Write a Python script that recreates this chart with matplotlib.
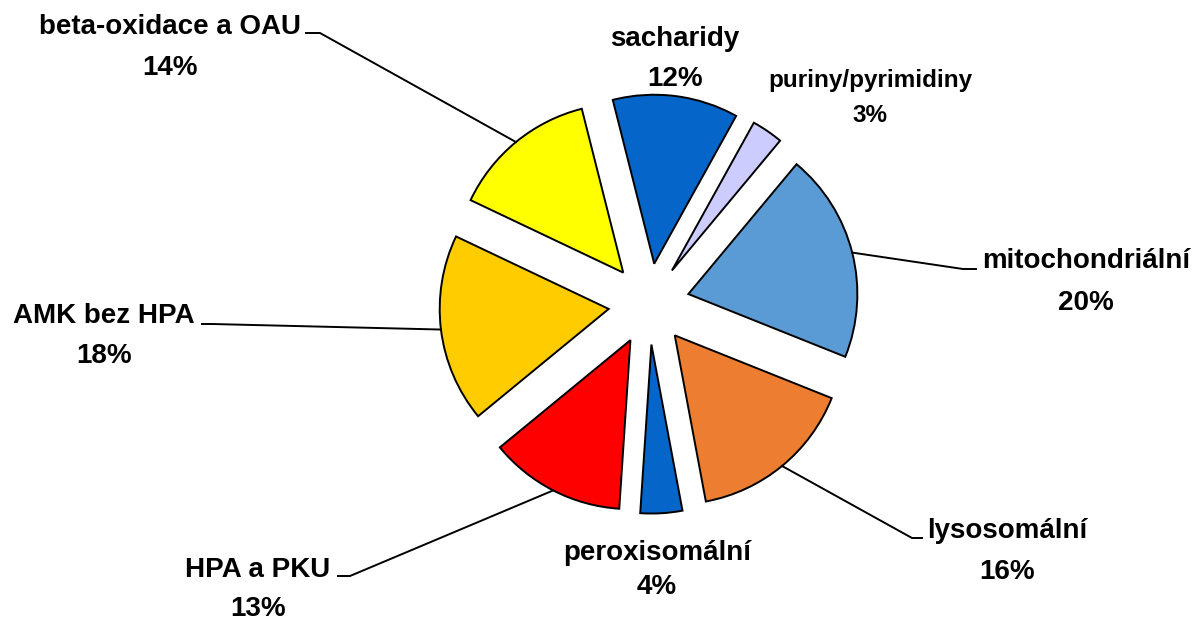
import math
import matplotlib
matplotlib.use("Agg")
import matplotlib.pyplot as plt

# slices, clockwise from the top
labels = ["sacharidy", "puriny/pyrimidiny", "mitochondriální", "lysosomální",
          "peroxisomální", "HPA a PKU", "AMK bez HPA", "beta-oxidace a OAU"]
values = [12, 3, 20, 16, 4, 13, 18, 14]
colors = ["#0565C8", "#CCCCFF", "#5B9BD5", "#ED7D31",
          "#0565C8", "#FF0000", "#FFCC00", "#FFFF00"]

W, H = 1200, 621
CX, CY = 649, 304      # pie centre, picture pixels (y down)
R = 169
GAP = 40.6

# label layout: x centre, baseline of name, baseline of percent, font size
label_pos = [(675, 46, 86, 20), (870, 87, 122, 17.5), (1086, 268, 310, 20),
             (1007, 538, 579, 20), (657, 560, 594, 20), (258, 577, 616, 20),
             (104, 323, 363, 20), (170, 34, 75, 20)]
# leader lines: slice index -> elbow point, end point (next to the label)
leaders = {2: [(963, 269), (976, 269)],
           3: [(912, 538), (922, 538)],
           5: [(350, 576), (338, 576)],
           6: [(212, 324), (202, 324)],
           7: [(320, 33), (306, 33)]}


def px(x, y):
    return x, H - y


fig = plt.figure(figsize=(W / 100, H / 100), dpi=100)
ax = fig.add_axes([0, 0, 1, 1])
wedges, _ = ax.pie(values, colors=colors, startangle=104.2, counterclock=False,
                   center=px(CX, CY), radius=R, explode=[GAP] * len(values),
                   wedgeprops=dict(edgecolor="black", linewidth=1.4))
ax.set_xlim(0, W)
ax.set_ylim(0, H)
ax.set_aspect("equal")
ax.axis("off")

for i, (name, v) in enumerate(zip(labels, values)):
    x, yb1, yb2, fs = label_pos[i]
    ax.text(*px(x, yb1), name, ha="center", va="baseline", fontsize=fs,
            fontweight="bold", family="Liberation Sans")
    ax.text(*px(x, yb2), f"{v}%", ha="center", va="baseline", fontsize=fs,
            fontweight="bold", family="Liberation Sans")

# leader lines start at the middle of each slice's arc
for i, pts in leaders.items():
    w = wedges[i]
    mid = math.radians((w.theta1 + w.theta2) / 2)
    x0 = w.center[0] + w.r * math.cos(mid)
    y0 = w.center[1] + w.r * math.sin(mid)
    xs = [x0] + [p[0] for p in pts]
    ys = [y0] + [H - p[1] for p in pts]
    ax.plot(xs, ys, color="black", linewidth=1.4)

fig.savefig("out.png", dpi=100)
